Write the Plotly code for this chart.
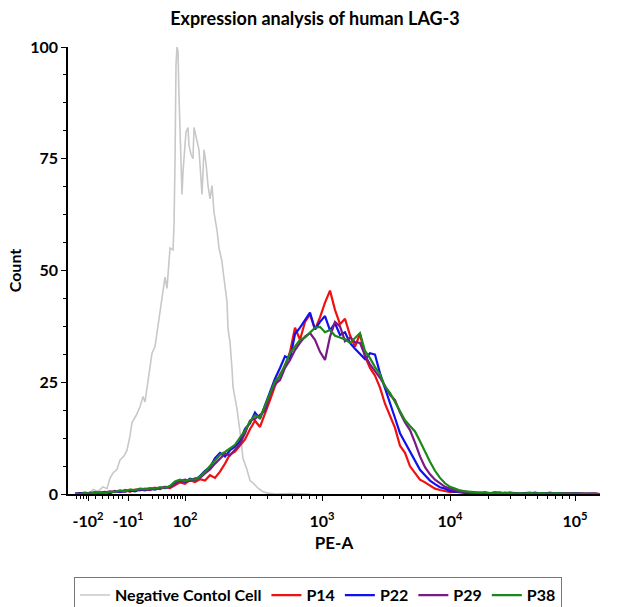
import plotly.graph_objects as go

# display channel (biexponential scale, arbitrary units)
bins = list(range(75, 601, 5))

p14 = [0, 0.1, 0.3, 0.1, 0.4, 0.2, 0.5, 0.3, 0.7, 0.4, 0.9, 0.5, 1.0, 0.8, 1.2, 0.9,
       1.4, 1.1, 1.6, 1.3, 2.0, 2.6, 2.3, 3.1, 2.7, 3.3, 3.0, 4.2, 3.6, 5.0, 6.8, 8.9,
       9.5, 10.8, 12.2, 14.5, 16.4, 15.0, 17.8, 21.0, 24.2, 26.8, 28.5, 31.8, 37.2, 34.5,
       38.5, 40.2, 36.8, 39.5, 42.8, 45.5, 41.2, 38.0, 39.2, 35.5, 33.0, 35.8, 30.8, 28.2,
       26.5, 23.8, 20.2, 17.5, 14.8, 10.8, 9.2, 6.2, 4.8, 3.2, 2.6, 1.8, 1.2, 0.9, 0.7,
       0.4, 0.5, 0.3, 0.2, 0.4,
       0.2, 0.1, 0.3, 0.1, 0.4, 0.2, 0.1, 0.3, 0.2, 0.1, 0.2, 0.3, 0.1, 0.2, 0.1, 0.3,
       0.1, 0.2, 0.1, 0.2, 0.1, 0.1, 0.2, 0.1, 0.1, 0]
p22 = [0.1, 0.2, 0, 0.3, 0.1, 0.3, 0.4, 0.2, 0.6, 0.5, 0.7, 0.8, 0.6, 1.0, 0.8, 1.2,
       1.0, 1.4, 1.3, 1.7, 2.6, 3.0, 2.7, 3.4, 3.1, 4.0, 5.2, 6.0, 8.0, 9.2, 8.4, 9.8,
       10.6, 11.8, 14.6, 15.8, 18.2, 16.8, 19.8, 23.0, 25.8, 28.2, 30.8, 30.2, 35.8, 37.2,
       38.8, 40.6, 36.8, 38.5, 39.8, 36.6, 38.2, 35.6, 36.2, 33.8, 32.5, 31.4, 30.2, 31.5,
       31.2, 27.0, 23.5, 20.2, 17.0, 13.6, 11.6, 9.4, 7.6, 5.4, 4.2, 3.0, 2.2, 1.5, 1.2,
       0.7, 0.5, 0.6, 0.3, 0.2,
       0.3, 0.1, 0.2, 0.2, 0.1, 0.3, 0.1, 0.2, 0.1, 0.2, 0.1, 0.1, 0.3, 0.1, 0.2, 0.1,
       0.1, 0.2, 0.1, 0.1, 0.2, 0.1, 0, 0.1, 0.1, 0]
p29 = [0, 0.1, 0.2, 0.2, 0.3, 0.1, 0.4, 0.6, 0.4, 0.7, 0.5, 0.9, 0.8, 1.1, 1.0, 1.0,
       1.3, 1.2, 1.6, 1.5, 2.2, 2.9, 3.2, 2.9, 3.5, 3.6, 4.6, 5.5, 6.8, 7.8, 9.0, 8.6,
       10.0, 11.2, 13.6, 16.4, 16.8, 17.6, 18.6, 22.2, 24.6, 25.5, 28.2, 30.0, 32.2, 33.8,
       35.2, 36.0, 34.5, 31.8, 30.0, 35.2, 38.5, 37.5, 34.2, 35.0, 34.0, 33.8, 31.0, 29.0,
       27.5, 26.0, 24.2, 22.2, 21.0, 18.2, 16.0, 14.3, 11.5, 8.4, 6.0, 4.4, 3.2, 2.4, 1.6,
       1.2, 0.8, 0.5, 0.6, 0.3,
       0.2, 0.3, 0.1, 0.2, 0.2, 0.1, 0.3, 0.1, 0.1, 0.2, 0.2, 0.1, 0.1, 0.2, 0.1, 0.2,
       0.1, 0.1, 0.1, 0.2, 0.1, 0.1, 0.1, 0, 0.1, 0]
p38 = [0.1, 0, 0.2, 0.1, 0.3, 0.4, 0.2, 0.5, 0.5, 0.8, 0.6, 1.0, 0.9, 1.2, 1.1, 1.3,
       1.2, 1.5, 1.4, 1.8, 2.8, 3.2, 2.9, 3.3, 3.2, 3.9, 5.0, 6.2, 7.6, 8.8, 9.4, 10.2,
       11.0, 12.6, 14.2, 16.2, 17.6, 17.0, 19.8, 22.6, 25.2, 26.4, 29.0, 31.5, 33.0, 34.5,
       35.0, 36.0, 37.2, 37.4, 36.2, 36.7, 35.4, 35.0, 34.6, 33.8, 34.8, 36.0, 32.0, 30.4,
       28.4, 26.8, 24.0, 22.6, 20.6, 18.6, 16.5, 15.2, 14.0, 11.8, 9.4, 7.2, 5.2, 3.6, 2.4,
       1.6, 1.2, 0.8, 0.6, 0.5,
       0.4, 0.3, 0.4, 0.2, 0.3, 0.2, 0.2, 0.3, 0.1, 0.2, 0.1, 0.2, 0.1, 0.2, 0.1, 0.1,
       0.2, 0.1, 0.1, 0.1, 0.1, 0.1, 0, 0.1, 0, 0]

neg_x = [80, 85, 90, 93, 98, 103, 107, 110, 113, 117, 120, 124, 127, 130, 132, 136, 140,
         143, 145, 148, 150, 152, 155, 158, 160, 163, 165, 167, 168, 170, 173, 174, 175,
         176, 177, 178, 179, 181, 182, 183, 186, 188, 189, 191, 193, 194, 197, 199, 202,
         204, 206, 208, 210, 212, 214, 217, 219, 222, 223, 225, 227, 228, 230, 232, 233,
         235, 237, 240, 243, 247, 250, 253, 258, 263, 268, 275, 290, 310]
neg_y = [0, 0.3, 0.2, 1.0, 0.6, 1.6, 1.2, 3.5, 4.7, 5.5, 7.6, 8.5, 9.8, 13.0, 16.0, 17.5,
         19.5, 21.8, 20.6, 25.5, 28.0, 31.5, 33.0, 38.0, 41.0, 46.0, 48.5, 46.0, 50.0,
         55.0, 54.6, 60.0, 74.0, 96.0, 100, 99, 89, 74, 67, 72, 81, 82, 78, 76, 75, 82, 79,
         77, 67, 77, 74, 69, 66, 69, 63, 59, 55, 52, 50, 46, 43, 37, 34, 28, 24, 21.5, 19,
         14, 8, 5.4, 3, 2.5, 1.3, 0.5, 0.2, 0, 0.1, 0]

tick_pos = [88, 128, 185, 322, 450, 575]
tick_txt = ["-10<sup>2</sup>", "-10<sup>1</sup>", "10<sup>2</sup>",
            "10<sup>3</sup>", "10<sup>4</sup>", "10<sup>5</sup>"]
minor_pos = [76, 80, 83, 86, 95, 102, 108, 113, 118, 122, 140, 152, 158, 163, 167, 171,
             174, 177, 180, 182, 226, 250, 267, 281, 292, 301, 309, 316,
             361, 383, 399, 411, 421, 429, 437, 444,
             488, 510, 525, 537, 547, 555, 562, 569]

FAM = "Lato, 'Open Sans', sans-serif"
font = dict(family=FAM, size=16, color="black", weight="bold")

fig = go.Figure()
fig.add_trace(go.Scatter(x=neg_x, y=neg_y, mode="lines", name="Negative Contol Cell",
                         line=dict(color="#c8c8c8", width=1.6)))
series = [("P14", p14, "#f01010"), ("P22", p22, "#1010f0"),
          ("P29", p29, "#7a1a86"), ("P38", p38, "#1a881a")]
for name, vals, col in series:
    fig.add_trace(go.Scatter(x=bins, y=vals, mode="lines", name=name,
                             line=dict(color=col, width=2.2)))

fig.update_layout(
    width=620, height=607,
    margin=dict(l=68, r=20, t=47, b=113, autoexpand=False),
    paper_bgcolor="white", plot_bgcolor="white",
    font=font,
    title=dict(text="Expression analysis of human LAG-3", x=0.508, xref="container",
               xanchor="center", y=0.970, yanchor="middle",
               font=dict(family=FAM, size=18, weight="bold")),
    showlegend=True,
    legend=dict(orientation="h", x=0.47, xanchor="center", y=-0.186, yanchor="top",
                bordercolor="#777777", borderwidth=1, itemwidth=30,
                font=dict(size=16), tracegroupgap=0),
)
fig.update_xaxes(
    range=[68, 600], showgrid=False, zeroline=False,
    showline=True, linecolor="black", linewidth=1.5,
    ticks="outside", ticklen=5, tickcolor="black", tickwidth=1.2,
    tickvals=tick_pos, ticktext=tick_txt, ticklabelstandoff=7,
    minor=dict(tickmode="array", tickvals=minor_pos, ticks="outside", ticklen=3,
               tickcolor="black", tickwidth=1),
    title=dict(text="PE-A", standoff=8, font=dict(size=17)),
)
fig.update_yaxes(
    range=[0, 100], showgrid=False, zeroline=False,
    showline=True, linecolor="black", linewidth=1.5,
    ticks="outside", ticklen=5, tickcolor="black", tickwidth=1.2,
    tickvals=[0, 25, 50, 75, 100], ticklabelstandoff=0,
    minor=dict(dtick=6.25, ticks="outside", ticklen=3, tickcolor="black", tickwidth=1),
    title=dict(text="Count", standoff=5, font=dict(size=16)),
)

fig.write_html("out.html", config={"displayModeBar": False},
               post_script="document.body.style.margin = '0';")
